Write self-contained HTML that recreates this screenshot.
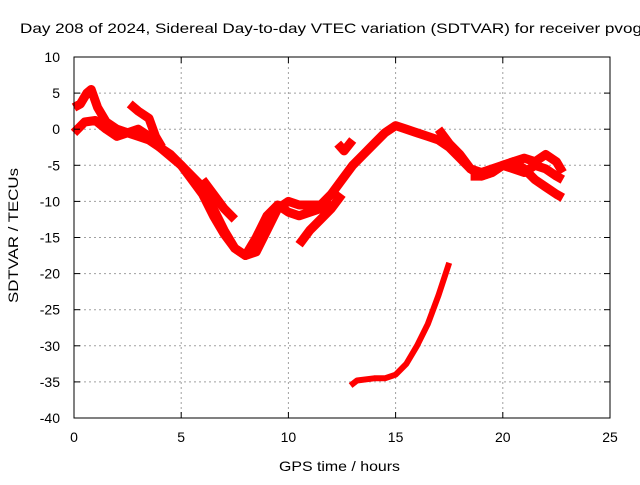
<!DOCTYPE html>
<html><head><meta charset="utf-8"><style>
html,body{margin:0;padding:0;background:#fff}
svg text{font-family:"Liberation Sans",sans-serif;font-size:13px;fill:#000}
</style></head><body>
<svg id="chart" width="640" height="480">
<text x="20" y="33" style="font-size:14px" textLength="622" lengthAdjust="spacingAndGlyphs">Day 208 of 2024, Sidereal Day-to-day VTEC variation (SDTVAR) for receiver pvog</text>
<g id="grid"></g><g id="series"></g><g id="axes"></g>
<text x="279" y="471" style="font-size:14px" textLength="121" lengthAdjust="spacingAndGlyphs">GPS time / hours</text>
<text transform="translate(18,303) rotate(-90)" style="font-size:14px" textLength="135" lengthAdjust="spacingAndGlyphs">SDTVAR / TECUs</text>
</svg>
<script>
const xTicks=[0,5,10,15,20,25];
const yTicks=[10,5,0,-5,-10,-15,-20,-25,-30,-35,-40];
const s1x=[0,0.3,0.6,0.8,1.1,1.5,2,2.5,3,3.5,4,4.5,5,5.5,6,6.5,7,7.5,8,8.5,9,9.5,10,10.5,11,11.5,12,12.5,13,13.5,14,14.5,15,15.5,16,16.5,17,17.5,18,18.5,19,19.5,20,20.5,21,21.5,22,22.5,22.8];
const s1y=[3,3.5,5,5.5,3,1,0,-0.5,-1,-1.5,-2.5,-3.5,-5,-7,-9,-12,-14.5,-16.5,-17.5,-17,-14,-11,-10,-10.5,-10.5,-10.5,-9,-7,-5,-3.5,-2,-0.5,0.5,0,-0.5,-1,-1.5,-2.5,-4,-5.5,-6,-5.5,-5,-5.5,-6,-5,-5.5,-6.5,-7];
const s2x=[0,0.5,1,1.5,2,2.5,3,3.5,4,5,6,6.5,7,7.5,8,8.5,9,9.5,10,10.5,11,11.5,12];
const s2y=[-0.5,1,1.2,0,-1,-0.5,0,-1,-2.5,-5,-8,-11,-14,-16.5,-17.5,-15,-12,-10.5,-11.5,-12,-11.5,-11,-10];
const s3x=[2.6,3,3.5,3.8,4.1];
const s3y=[3.5,2.5,1.5,-1,-2.5];
const s4x=[10.5,11,11.5,12,12.5];
const s4y=[-16,-14,-12.5,-11,-9];
const s5x=[6,6.5,7,7.5];
const s5y=[-7,-9,-11,-12.5];
const s6x=[12.3,12.6,13];
const s6y=[-2,-3,-1.5];
const s7x=[17,17.5,18,18.5,19,19.5,20,20.5,21,21.5,22,22.5,22.8];
const s7y=[0,-2,-3.5,-5.5,-6.5,-6,-5,-4.5,-5.5,-7,-8,-9,-9.5];
const s8x=[18.5,19,19.5,20,20.5,21,21.5,22,22.5,22.8];
const s8y=[-6.5,-6.5,-6,-5,-4.5,-4,-4.5,-3.5,-4.5,-6];
const s9x=[12.9,13.2,14,14.5,15,15.5,16,16.5,17,17.5];
const s9y=[-35.5,-34.8,-34.5,-34.5,-34,-32.5,-30,-27,-23,-18.5];
const NS="http://www.w3.org/2000/svg";
const X0=74,X1=610,Y0=418,Y1=57;
const xs=v=>X0+(v-0)/(25-0)*(X1-X0);
const ys=v=>Y0-(v+40)/50*(Y0-Y1);
const grid=document.getElementById('grid'),axes=document.getElementById('axes'),ser=document.getElementById('series');
function mk(tag,a,p){const e=document.createElementNS(NS,tag);for(const k in a)e.setAttribute(k,a[k]);p.appendChild(e);return e;}
xTicks.forEach(t=>{const x=xs(t);
 if(t>0&&t<25){const g=mk('line',{x1:x,x2:x,y1:Y1,y2:Y0,stroke:'#a0a0a0','stroke-dasharray':'2,3'},grid);
 
 }
 mk('line',{x1:x,x2:x,y1:Y0,y2:Y0-6,stroke:'#000'},axes);
 mk('line',{x1:x,x2:x,y1:Y1,y2:Y1+6,stroke:'#000'},axes);
 const l=mk('text',{x:x,y:Y0+24,'text-anchor':'middle',style:'font-size:14px'},axes);l.textContent=t;
 
 });
yTicks.forEach(t=>{const y=ys(t);
 if(t>-40&&t<10){const g=mk('line',{x1:X0,x2:X1,y1:y,y2:y,stroke:'#a0a0a0','stroke-dasharray':'2,3'},grid);
 
 }
 mk('line',{x1:X0,x2:X0+6,y1:y,y2:y,stroke:'#000'},axes);
 mk('line',{x1:X1,x2:X1-6,y1:y,y2:y,stroke:'#000'},axes);
 const l=mk('text',{x:X0-14,y:y+5,'text-anchor':'end',style:'font-size:14px'},axes);l.textContent=t;
 
 });
const frame=mk('rect',{x:X0,y:Y1,width:X1-X0,height:Y0-Y1,fill:'none',stroke:'#000'},axes);


[[s1x,s1y],[s2x,s2y],[s3x,s3y],[s4x,s4y],[s5x,s5y],[s6x,s6y],[s7x,s7y],[s8x,s8y],[s9x,s9y]].forEach((s,i)=>{
 const pts=s[0].map((h,j)=>xs(h).toFixed(1)+','+ys(s[1][j]).toFixed(1)).join(' ');
 const p=mk('polyline',{points:pts,fill:'none',stroke:'#ff0000','stroke-width':i==8?6:9,'stroke-linejoin':'round','stroke-linecap':'butt'},ser);
 
 
});
</script>
</body></html>
